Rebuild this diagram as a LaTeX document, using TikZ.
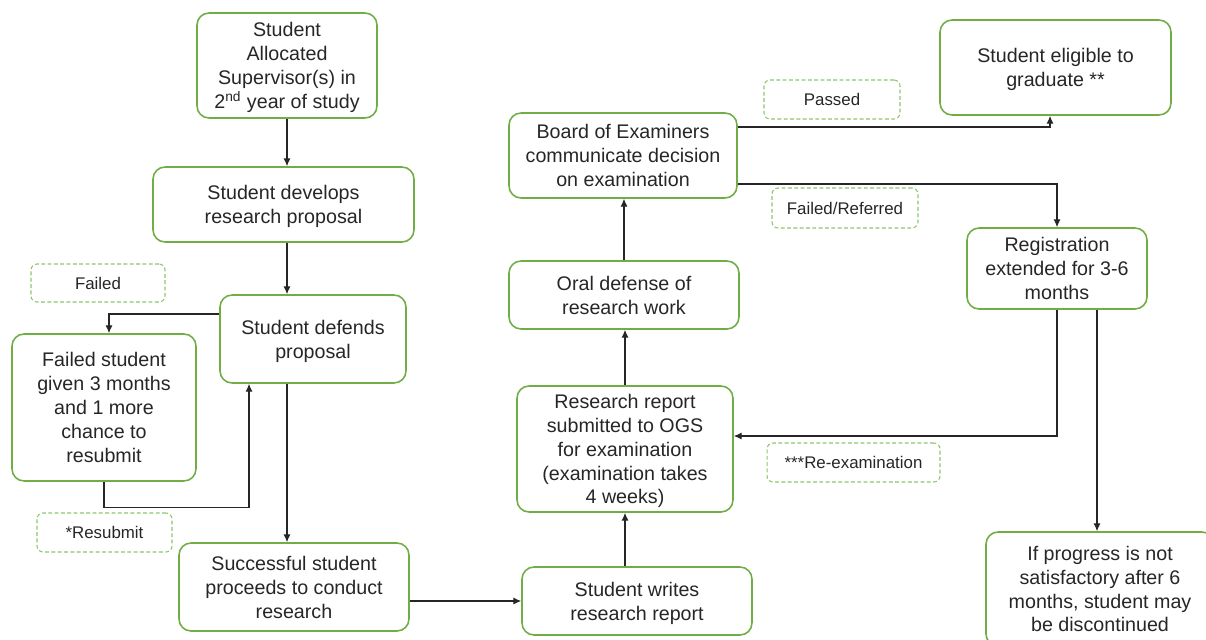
\documentclass[tikz,border=0pt]{standalone}
\usepackage{fontspec}
\setmainfont{Liberation Sans}
\usetikzlibrary{arrows.meta}
\definecolor{boxgreen}{HTML}{70AD47}
\definecolor{taggreen}{HTML}{8CC66A}

\begin{document}
\begin{tikzpicture}[x=0.02cm,y=-0.02cm,>={Latex[length=4.5pt,width=4pt]},
  stagebox/.style={draw=boxgreen,line width=0.9pt,rounded corners=0.24cm,align=center,
    inner sep=0pt,text depth=-1.5pt,text=black!85,font=\fontsize{11.2}{13.6}\selectfont},
  tagbox/.style={draw=taggreen,line width=0.6pt,dash pattern=on 2.2pt off 1.4pt,
    rounded corners=0.12cm,align=center,inner sep=0pt,text=black!85,
    font=\fontsize{9.6}{11.6}\selectfont},
  flow/.style={->,line width=0.6pt,black!85}]
\path[use as bounding box,clip] (0,0) rectangle (1206,639);
% proposal stage
\node[stagebox,minimum width=3.6cm,minimum height=2.1cm] (alloc) at (287,65.5)
  {Student\\Allocated\\Supervisor(s) in\\2\textsuperscript{nd} year of study};
\node[stagebox,minimum width=5.22cm,minimum height=1.5cm] (develops) at (283.5,204.5)
  {Student develops\\research proposal};
\node[stagebox,minimum width=3.72cm,minimum height=1.76cm] (defends) at (313,339)
  {Student defends\\proposal};
\node[stagebox,minimum width=3.68cm,minimum height=2.94cm] (failedstud) at (104,407.5)
  {Failed student\\given 3 months\\and 1 more\\chance to\\resubmit};
\node[stagebox,minimum width=4.6cm,minimum height=1.76cm] (successful) at (294,587)
  {Successful student\\proceeds to conduct\\research};
% research and examination
\node[stagebox,minimum width=4.6cm,minimum height=1.36cm] (writes) at (637,601)
  {Student writes\\research report};
\node[stagebox,minimum width=4.32cm,minimum height=2.52cm] (report) at (625,449)
  {Research report\\submitted to OGS\\for examination\\(examination takes\\4 weeks)};
\node[stagebox,minimum width=4.6cm,minimum height=1.36cm] (oral) at (624,295)
  {Oral defense of\\research work};
\node[stagebox,minimum width=4.56cm,minimum height=1.7cm] (board) at (623,155.5)
  {Board of Examiners\\communicate decision\\on examination};
% outcomes
\node[stagebox,minimum width=4.62cm,minimum height=1.9cm] (eligible) at (1055.5,67.5)
  {Student eligible to\\graduate **};
\node[stagebox,minimum width=3.6cm,minimum height=1.62cm] (registration) at (1057,268.5)
  {Registration\\extended for 3-6\\months};
\node[stagebox,minimum width=4.56cm,minimum height=2.28cm] (progress) at (1100,589)
  {If progress is not\\satisfactory after 6\\months, student may\\be discontinued};
% dashed tags
\node[tagbox,minimum width=2.72cm,minimum height=0.78cm] (passed) at (832,99.5) {Passed};
\node[tagbox,minimum width=2.92cm,minimum height=0.8cm] (failref) at (845,208) {Failed/Referred};
\node[tagbox,minimum width=2.68cm,minimum height=0.76cm] (failed) at (98,283) {Failed};
\node[tagbox,minimum width=2.7cm,minimum height=0.78cm] (resubmit) at (104.5,532.5) {*Resubmit};
\node[tagbox,minimum width=3.46cm,minimum height=0.78cm] (reexam) at (853.5,462.5) {***Re-examination};
% arrows
\draw[flow] (alloc.south) -- (alloc.south |- develops.north);
\draw[flow] (develops.south -| alloc.south) -- (alloc.south |- defends.north);
\draw[flow] ([yshift=0.5cm]defends.west) -| ([xshift=0.1cm]failedstud.north);
\draw[flow] (failedstud.south) -- ++(0,26) -| ([xshift=-1.28cm]defends.south);
\draw[flow] (defends.south -| alloc.south) -- (alloc.south |- successful.north);
\draw[flow] (writes.west -| successful.east) -- (writes.west);
\draw[flow] (writes.north -| report.south) -- (report.south);
\draw[flow] (report.north) -- (report.north |- oral.south);
\draw[flow] (oral.north) -- (oral.north |- board.south);
\draw[flow] ([yshift=0.57cm]board.east) -| ([xshift=-0.11cm]eligible.south);
\draw[flow] ([yshift=-0.57cm]board.east) -| (registration.north);
\draw[flow] (registration.south) |- ([yshift=0.26cm]report.east);
\draw[flow] ([xshift=0.8cm]registration.south) -- ([xshift=0.8cm]registration.south |- progress.north);
\end{tikzpicture}
\end{document}
